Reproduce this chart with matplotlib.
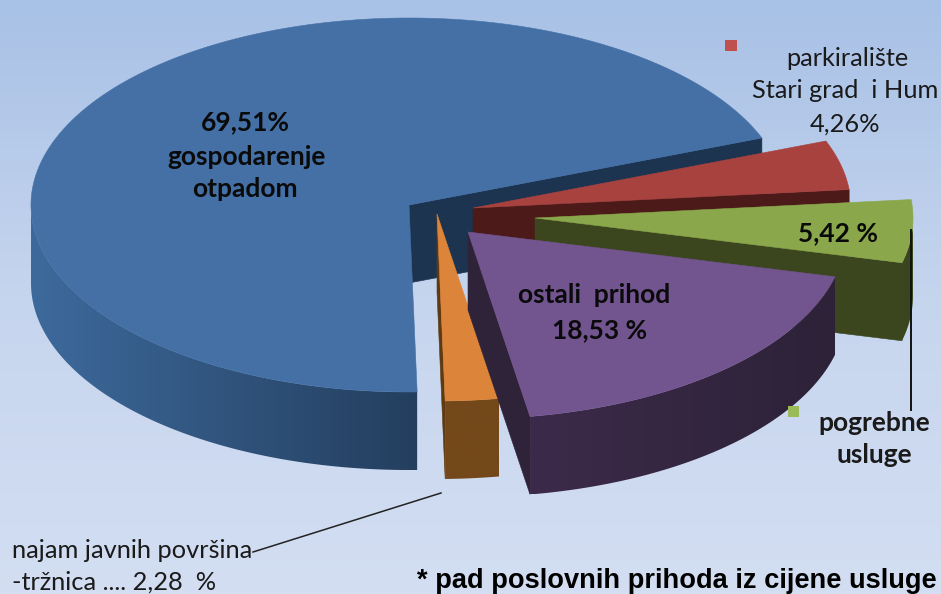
import numpy as np
import matplotlib
matplotlib.use("Agg")
import matplotlib.pyplot as plt
from matplotlib.patches import Polygon, Rectangle
from matplotlib.colors import LinearSegmentedColormap

# data (counter-clockwise order on the pie)
categories = ["gospodarenje otpadom", "najam javnih površina - tržnica", "ostali prihod",
              "pogrebne usluge", "parkiralište Stari grad i Hum"]
shares = [69.51, 2.28, 18.53, 5.42, 4.26]

# styling
top_colors = ["#4470a6", "#dc843a", "#72548f", "#8aa84b", "#a8423f"]
face_colors = ["#1c3450", "#5e3a12", "#2f2339", "#3b451e", "#4c1a18"]
wall_left = ["#3d6a9c", "#74481a", "#3c2a4a", "#3b451e", "#4c1a18"]
wall_right = ["#243e5e", "#74481a", "#2d2238", "#3b451e", "#4c1a18"]
apex_x = [409, 437, 468, 535, 473]
apex_y = [205, 214, 232, 218, 208]
RX, RY, DEPTH = 378, 187, 78
START = 21.0

fig = plt.figure(figsize=(9.41, 5.94), dpi=100)
ax = fig.add_axes([0, 0, 1, 1])
ax.axis("off")

bg = LinearSegmentedColormap.from_list("bg", ["#a8c1e6", "#c6d5ee", "#d3def2"])
ax.imshow(np.linspace(0, 1, 594)[:, None], cmap=bg, extent=(0, 941, 594, 0), aspect="auto", zorder=0)


def rim(cx, cy, a0, a1):
    t = np.radians(np.linspace(a0, a1, max(int(abs(a1 - a0) * 2), 2)))
    return np.column_stack([cx + RX * np.cos(t), cy - RY * np.sin(t)])


z = 1
angle = START
spans = []
for s in shares:
    spans.append((angle, angle + s * 3.6))
    angle += s * 3.6

# blue first, then red, green, orange, purple (back to front)
for i in [0, 4, 3, 1, 2]:
    a0, a1 = spans[i]
    cx, cy = apex_x[i], apex_y[i]
    # cut face at the start edge
    p = rim(cx, cy, a0, a0)[0]
    ax.add_patch(Polygon([(cx, cy), p, p + (0, DEPTH), (cx, cy + DEPTH)], closed=True,
                         fc=face_colors[i], ec=face_colors[i], lw=0.4, zorder=z))
    z += 1
    # outer wall (only the lower half of the ellipse is visible)
    lo, hi = max(a0, 180), min(a1, 360)
    if hi > lo:
        r = rim(cx, cy, lo, hi)
        poly = np.vstack([r, (r + (0, DEPTH))[::-1]])
        patch = Polygon(poly, closed=True, fc="none", ec="none", zorder=z)
        ax.add_patch(patch)
        cmap = LinearSegmentedColormap.from_list("w", [wall_left[i], wall_right[i]])
        im = ax.imshow(np.linspace(0, 1, 256)[None, :], cmap=cmap, aspect="auto", zorder=z,
                       extent=(poly[:, 0].min(), poly[:, 0].max(), poly[:, 1].max(), poly[:, 1].min()))
        im.set_clip_path(patch)
        z += 1
    # top surface
    r = rim(cx, cy, a0, a1)
    ax.add_patch(Polygon(np.vstack([(cx, cy), r]), closed=True,
                         fc=top_colors[i], ec=top_colors[i], lw=0.4, zorder=z))
    z += 1

ax.set_xlim(0, 941)
ax.set_ylim(594, 0)

# leader lines and legend keys
ax.plot([253, 441], [552, 493], color="#222222", lw=1.1, zorder=30)
ax.plot([911, 911], [230, 410], color="#111111", lw=1.4, zorder=30)
ax.add_patch(Rectangle((725.5, 40), 12, 11, fc="#c0504d", ec="none", zorder=30))
ax.add_patch(Rectangle((788, 406), 11, 11, fc="#9bbb59", ec="none", zorder=30))

F = "Lato"
DARK = "#1a1a1a"
BOLD = 19
REG = 18.3


def label(x, y, s, size=REG, weight="normal", color=DARK, ha="center", family=F):
    ax.text(x, y, s, fontsize=size, fontweight=weight, color=color, ha=ha, va="center",
            family=family, zorder=40)


label(245, 122, "69,51%", BOLD, "bold", "#0a0a0a")
label(247, 157, "gospodarenje", BOLD, "bold", "#0a0a0a")
label(245, 189, "otpadom", BOLD, "bold", "#0a0a0a")
label(594, 295, "ostali  prihod", BOLD, "bold", "#0a0a0a")
label(600, 330, "18,53 %", BOLD, "bold", "#0a0a0a")
label(838, 233, "5,42 %", BOLD, "bold", "#0a0a0a")
label(847, 58, "parkiralište")
label(845, 91, "Stari grad  i Hum")
label(845, 124, "4,26%")
label(874, 423, "pogrebne", BOLD, "bold")
label(874, 455, "usluge", BOLD, "bold")
label(12, 551, "najam javnih površina", ha="left")
label(12, 582, "-tržnica .... 2,28  %", ha="left")
label(937, 581, "* pad poslovnih prihoda iz cijene usluge", 19.6, "bold", "#000000", "right",
      "Liberation Sans")

fig.savefig("out.png", dpi=100)
